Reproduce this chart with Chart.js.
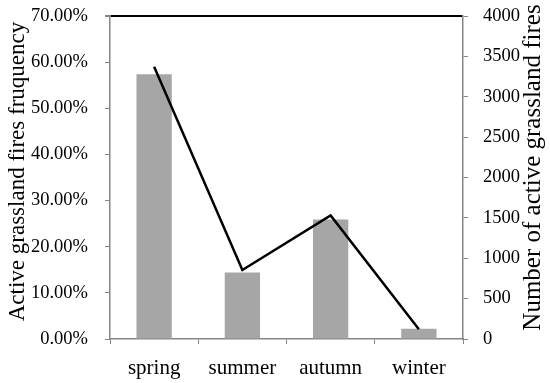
<!DOCTYPE html>
<html>
<head>
<meta charset="utf-8">
<script src="https://cdn.jsdelivr.net/npm/chart.js@4/dist/chart.umd.min.js"></script>
<style>
  html, body { margin: 0; padding: 0; background: #fff; }
  .canvas { width: 550px; height: 383px; }
</style>
</head>
<body>
<div class="canvas"><canvas id="chart"></canvas></div>
<script>
const seasons = ['spring', 'summer', 'autumn', 'winter']
const fireFrequency = [57.4, 14.4, 25.9, 2.2]   // percent, bars on left axis
const fireCount = [3370, 855, 1530, 120]        // line on right axis
const leftTitle = 'Active grassland fires fruquency'
const rightTitle = 'Number of active grassland fires'

const serif = "'Liberation Serif', 'Times New Roman', serif"
const axisGray = '#868686'

// rotated axis titles, both read bottom to top
const axisTitles = {
  id: 'axisTitles',
  afterDraw (chart) {
    const { ctx, chartArea } = chart
    const midY = (chartArea.top + chartArea.bottom) / 2
    ctx.save()
    ctx.fillStyle = '#000'
    ctx.textAlign = 'center'
    ctx.textBaseline = 'middle'

    ctx.font = '23px ' + serif
    ctx.save()
    ctx.translate(18, midY - 6)
    ctx.rotate(-Math.PI / 2)
    ctx.fillText(leftTitle, 0, 0)
    ctx.restore()

    ctx.font = '25px ' + serif
    ctx.save()
    ctx.translate(chartArea.right + 70, midY - 10)
    ctx.rotate(-Math.PI / 2)
    ctx.fillText(rightTitle, 0, 0)
    ctx.restore()

    ctx.restore()
  }
}

// fixed axis widths; drop the label padding Chart.js adds above the plot
const fitY = (width) => (scale) => {
  scale.width = width
  scale.paddingTop = 0
  scale.paddingBottom = 0
}

const ctx = document.getElementById('chart').getContext('2d')
// eslint-disable-next-line
new Chart(ctx, {
  type: 'bar',
  data: {
    labels: seasons,
    datasets: [
      {
        type: 'line',
        label: 'count',
        data: fireCount,
        yAxisID: 'y1',
        borderColor: '#000',
        borderWidth: 2.5,
        pointRadius: 0,
        tension: 0,
        fill: false,
        order: 0
      },
      {
        type: 'bar',
        label: 'frequency',
        data: fireFrequency,
        yAxisID: 'y',
        backgroundColor: '#a6a6a6',
        barPercentage: 0.4,
        categoryPercentage: 1,
        order: 1
      }
    ]
  },
  options: {
    responsive: true,
    maintainAspectRatio: false,
    animation: false,
    layout: { padding: { top: 16, left: 0, right: 0, bottom: 0 } },
    plugins: {
      legend: { display: false },
      tooltip: { enabled: false }
    },
    scales: {
      x: {
        afterFit: (scale) => {
          scale.height = 44
          scale.paddingLeft = 0
          scale.paddingRight = 0
        },
        border: { color: axisGray, width: 1.5 },
        grid: {
          offset: true,
          drawOnChartArea: false,
          tickLength: 5,
          tickColor: axisGray
        },
        ticks: {
          color: '#000',
          padding: 12,
          font: { family: serif, size: 21 }
        }
      },
      y: {
        position: 'left',
        min: 0,
        max: 70,
        afterFit: fitY(110),
        border: { color: axisGray, width: 1.5 },
        grid: {
          color: (c) => (c.tick && c.tick.value === 70 ? '#000' : 'rgba(0,0,0,0)'),
          lineWidth: (c) => (c.tick && c.tick.value === 70 ? 2 : 1),
          tickLength: 5,
          tickColor: axisGray
        },
        ticks: {
          stepSize: 10,
          color: '#000',
          padding: 17,
          font: { family: serif, size: 18.5 },
          callback: (v) => v.toFixed(2) + '%'
        }
      },
      y1: {
        position: 'right',
        min: 0,
        max: 4000,
        afterFit: fitY(87),
        border: { color: axisGray, width: 1.5 },
        grid: {
          drawOnChartArea: false,
          tickLength: 5,
          tickColor: axisGray
        },
        ticks: {
          stepSize: 500,
          color: '#000',
          padding: 15,
          font: { family: serif, size: 18.5 },
          callback: (v) => String(v)
        }
      }
    }
  },
  plugins: [axisTitles]
})
</script>
</body>
</html>
